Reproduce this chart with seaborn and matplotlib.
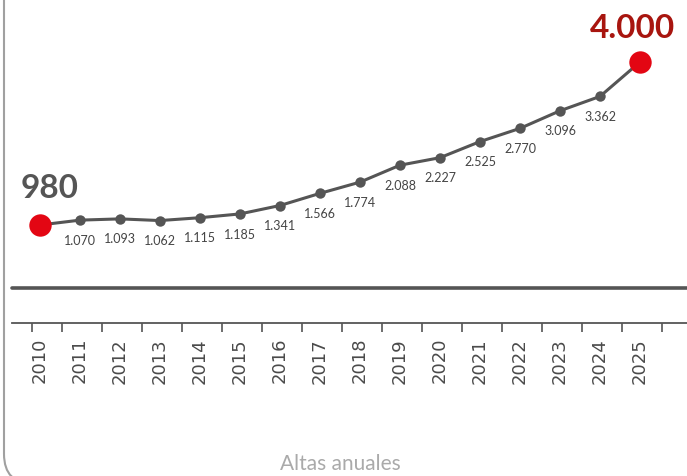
import numpy as np
import pandas as pd
import matplotlib
matplotlib.use("Agg")
import matplotlib.pyplot as plt
from matplotlib.patches import FancyBboxPatch
import seaborn as sns

# datos
anios = [2010, 2011, 2012, 2013, 2014, 2015, 2016, 2017,
         2018, 2019, 2020, 2021, 2022, 2023, 2024, 2025]
altas = [980, 1070, 1093, 1062, 1115, 1185, 1341, 1566,
         1774, 2088, 2227, 2525, 2770, 3096, 3362, 4000]
etiquetas = ["980", "1.070", "1.093", "1.062", "1.115", "1.185", "1.341", "1.566",
             "1.774", "2.088", "2.227", "2.525", "2.770", "3.096", "3.362", "4.000"]
titulo_eje = "Altas anuales"

df = pd.DataFrame({"anio": anios, "altas": altas})

sns.set_theme(style="white")
plt.rcParams["font.family"] = ["Lato", "DejaVu Sans"]

GRIS = "#555555"
ROJO = "#e30613"
ROJO_OSC = "#a8150f"

fig = plt.figure(figsize=(6.87, 4.77), dpi=100)
W, H = 687, 477
# eje desde x=12px hasta el borde, abajo en y=324px
ax = fig.add_axes([12 / W, 1 - 324 / H, 1 - 12 / W, 324 / H])

sns.lineplot(data=df, x="anio", y="altas", ax=ax, color=GRIS, linewidth=2.2,
             marker="o", markersize=7.5, markeredgewidth=0, zorder=2)
extremos = df.iloc[[0, -1]]
sns.scatterplot(data=extremos, x="anio", y="altas", ax=ax, color=ROJO,
                s=260, linewidth=0, zorder=3, legend=False)

ax.set_xlim(2009.3, 2026.175)
ax.set_ylim(-836, 5167)

# etiquetas de valores intermedios
for a, v, t in zip(anios[1:-1], altas[1:-1], etiquetas[1:-1]):
    ax.annotate(t, (a, v), xytext=(0, -17), textcoords="offset points",
                ha="center", va="baseline", fontsize=9, color="#444444")

ax.annotate(etiquetas[0], (anios[0], altas[0]), xytext=(7, 20),
            textcoords="offset points", ha="center", va="baseline",
            fontsize=24, fontweight="bold", color=GRIS, annotation_clip=False)
ax.annotate(etiquetas[-1], (anios[-1], altas[-1]), xytext=(-5.5, 18),
            textcoords="offset points", ha="center", va="baseline",
            fontsize=24, fontweight="bold", color=ROJO_OSC, annotation_clip=False)

# linea gruesa horizontal
ax.plot([0, 1], [35 / 324, 35 / 324], transform=ax.transAxes,
        color=GRIS, linewidth=2.6, clip_on=False)

ax.set_xticks(anios)
ax.set_xticklabels([str(a) for a in anios], rotation=90,
                   fontsize=13, color="#4a4a4a", family="DejaVu Sans")
ax.set_xticks([2009.8] + [a + 0.55 for a in anios], minor=True)
ax.tick_params(axis="x", which="major", length=0, pad=10)
ax.tick_params(axis="x", which="minor", length=6.5, width=1.2,
               color=GRIS, direction="out", bottom=True)
ax.set_yticks([])
ax.set_xlabel("")
ax.set_ylabel("")
for s in ["left", "top", "right"]:
    ax.spines[s].set_visible(False)
ax.spines["bottom"].set_color(GRIS)
ax.spines["bottom"].set_linewidth(1.3)

fig.text(340 / W, 1 - 470 / H, titulo_eje, ha="center", va="baseline",
         fontsize=15, color="#aaaaaa")

# marco redondeado a la izquierda
marco = FancyBboxPatch((0.04, -0.08), 8, 6,
                       boxstyle="round,pad=0,rounding_size=0.30",
                       transform=fig.dpi_scale_trans, facecolor="none",
                       edgecolor="#a0a0a0", linewidth=1.5)
fig.add_artist(marco)

fig.savefig("out.png", dpi=100)
